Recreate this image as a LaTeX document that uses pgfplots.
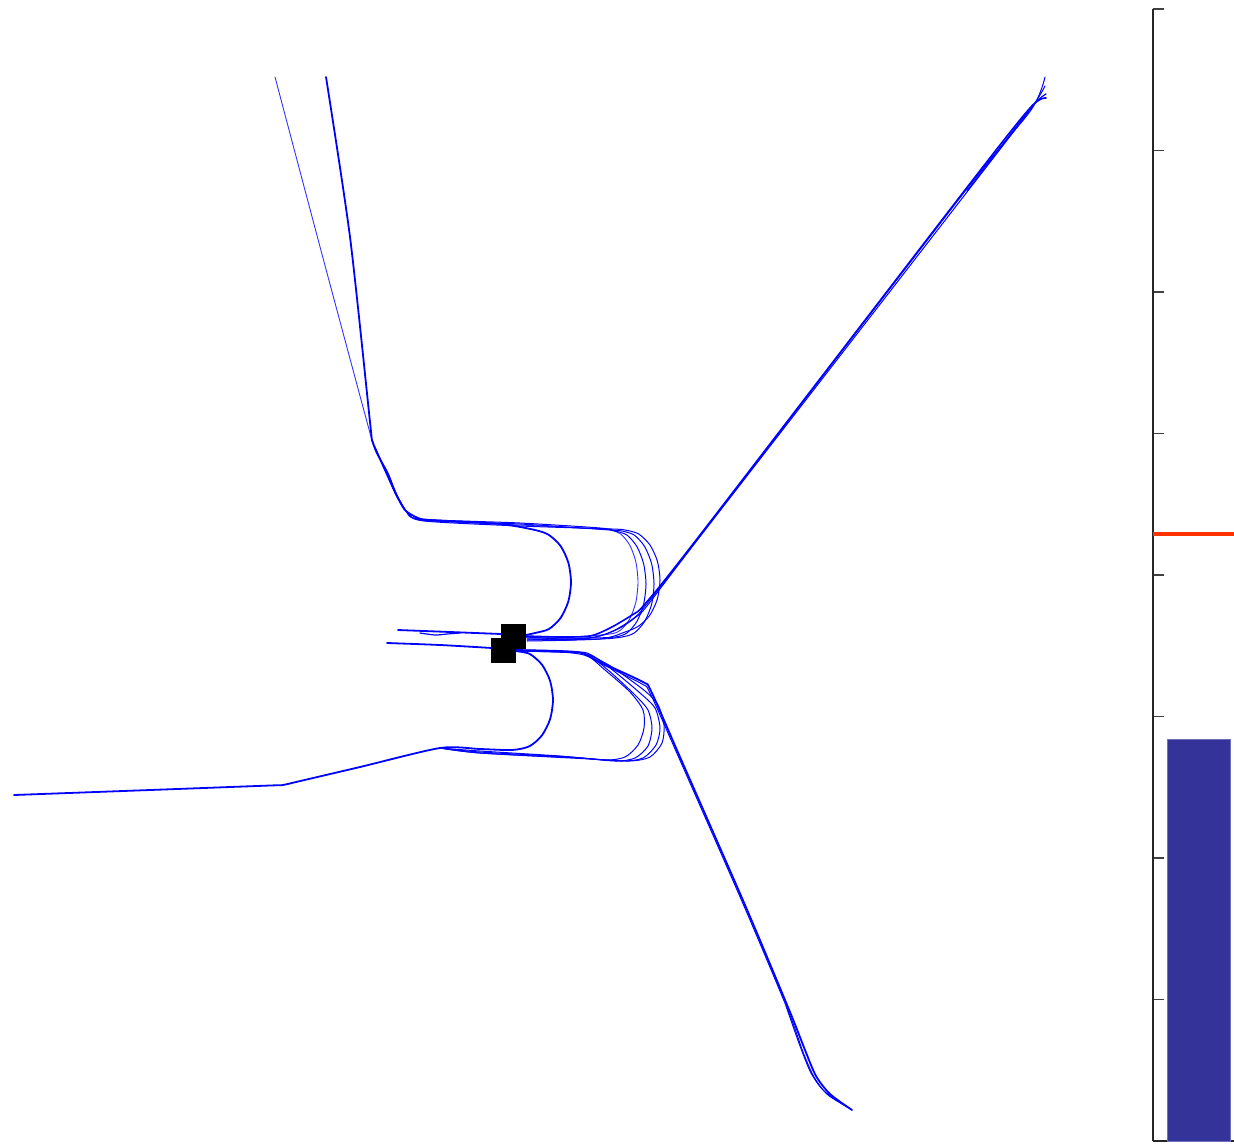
\documentclass[border=0pt]{standalone}
\usepackage{pgfplots}
\pgfplotsset{compat=1.18}
\definecolor{trk}{RGB}{0,0,255}
\definecolor{barblue}{RGB}{51,51,153}
\definecolor{redline}{RGB}{255,51,0}
\pgfplotsset{trj/.style={trk, line join=round, line cap=round, smooth, tension=0.45, mark=none}}
\begin{document}
\begin{tikzpicture}
\begin{axis}[
  at={(0pt,0pt)}, anchor=south west,
  scale only axis, width=617pt, height=572.5pt,
  xmin=0, xmax=1234, ymin=0, ymax=1145, y dir=reverse,
  axis lines=none, clip=false,
]
% upper-left arrivals
\addplot[trj, line width=0.45pt, opacity=0.8] coordinates {(275,77) (323,258) (367,422) (372,440) (376,450) (385,470) (395,492) (405,510) (418,518) (430,521) (520,525) (600,529) (610,530) (620.7,534) (629.8,545.2) (635.9,562.1) (638,582) (635.9,601.9) (629.8,618.8) (620.7,630) (610,634) (570,637) (526,637)};
\addplot[trj, line width=0.9pt] coordinates {(326,77) (350,237) (370,422) (372,440) (376,450) (385,470) (395,492) (405,510) (418,518) (430,520) (500,524) (535,530) (548.8,534.9) (560.5,545.9) (568.3,562.5) (571,582) (568.3,601.5) (560.5,618.1) (548.8,629.1) (535,633) (526,635)};
\addplot[trj, line width=0.5pt] coordinates {(372,440) (376,451) (386,471) (395,493) (406,511) (420,519) (520,523) (600,528) (615,531) (626.9,535) (636.9,546.5) (643.6,563.7) (646,584) (643.6,604.3) (636.9,621.5) (626.9,633) (615,637) (590,638) (527,638)};
\addplot[trj, line width=0.5pt] coordinates {(372,440) (376,452) (387,472) (396,494) (407,512) (422,520) (520,524) (610,530) (622,531) (634.2,535) (644.6,546.5) (651.6,563.7) (654,584) (651.6,604.3) (644.6,621.5) (634.2,633) (622,637) (600,639) (527,640)};
\addplot[trj, line width=0.5pt] coordinates {(372,440) (377,453) (388,473) (397,495) (408,513) (424,521) (520,526) (612,529) (625,530) (638.4,533.8) (649.7,544.6) (657.3,560.9) (660,580) (657.3,599.1) (649.7,615.4) (638.4,626.2) (625,632) (600,639) (527,641)};
% upper-right departures
\addplot[trj, line width=0.8pt] coordinates {(526,636) (560,637) (590,636) (610,628) (632,615) (645,604) (700,535) (965,190) (1030,108) (1046,98)};
\addplot[trj, line width=0.5pt] coordinates {(526,637) (565,639) (595,637) (615,630) (634,618) (646,605) (700,536) (966,190) (1031,110) (1045,77)};
\addplot[trj, line width=0.5pt] coordinates {(527,639) (570,640) (600,636) (620,628) (636,617) (647,606) (702,534) (967,192) (1030,110) (1045,86)};
\addplot[trj, line width=0.6pt] coordinates {(967,191) (1030,109) (1046,94)};
% runway lines to the left
\addplot[trj, line width=0.9pt] coordinates {(398,630) (450,632) (501,634)};
\addplot[trj, line width=0.6pt] coordinates {(420,633) (435,635) (447,634) (460,633)};
\addplot[trj, line width=0.9pt] coordinates {(387,643) (440,645) (492,648)};
% lower departure to the right
\addplot[trj, line width=0.9pt] coordinates {(515,650) (560,651) (582,653) (600,662) (643,682) (651,691) (680,757) (745,905) (790,1012) (805,1050) (816,1076) (830,1094) (852,1110)};
\addplot[trj, line width=0.5pt] coordinates {(516,651) (560,652) (584,655) (602,664) (642,684) (650,693) (679,758) (744,906) (789,1013) (803,1052) (814,1077) (828,1095) (851,1109)};
\addplot[trj, line width=0.5pt] coordinates {(786,1006) (800,1046) (811,1073) (824,1091) (847,1107)};
% lower arc and departure to the left
\addplot[trj, line width=0.9pt] coordinates {(515,651) (529.5,653.8) (541.9,664.6) (550.1,680.9) (553,700) (550.1,719.1) (541.9,735.4) (529.5,746.2) (512,750) (480,749) (440,748) (360,767) (296,782) (283,785) (270,785.5) (150,790) (14,795)};
% lower loops
\addplot[trj, line width=0.5pt] coordinates {(440,748) (480,751) (560,756) (605,760) (625,757) (638,745) (644,728) (643,710) (630,692) (605,670) (585,654) (560,651) (516,650)};
\addplot[trj, line width=0.5pt] coordinates {(440,748) (480,752) (570,757) (615,761) (635,758) (648,746) (652,728) (648,710) (635,695) (608,670) (586,654) (560,652) (516,651)};
\addplot[trj, line width=0.5pt] coordinates {(440,748) (480,753) (580,758) (622,761) (643,758) (656,745) (660,728) (655,708) (640,693) (610,668) (587,653) (560,652) (516,651)};
\addplot[trj, line width=0.5pt] coordinates {(440,748) (480,753) (590,759) (630,761) (650,757) (662,743) (664,725) (658,705) (645,691) (612,667) (588,654)};
% squares
\addplot[only marks, mark=square*, mark size=6pt, black] coordinates {(503.7,650) (513.3,636)};
\end{axis}
\begin{axis}[
  at={(576.5pt,2pt)}, anchor=south west,
  scale only axis, width=40.5pt, height=566pt,
  xmin=0, xmax=81, ymin=0, ymax=8,
  axis x line=bottom, axis y line=left,
  axis line style={-, line width=0.8pt, black!85},
  xtick=\empty, ytick={0,1,2,3,4,5,6,7,8}, yticklabels={},
  tick align=inside, major tick length=5.5pt,
  tick style={line width=0.7pt, black!75},
  clip=false,
]
\addplot[fill=barblue, draw=barblue!70!white, line width=0.3pt] coordinates {(14,0) (14,2.84) (77,2.84) (77,0)} -- cycle;
\addplot[redline, line width=2.4pt] coordinates {(0,4.29) (81,4.29)};
\end{axis}
\pgfresetboundingbox
\path (0pt,0pt) rectangle (617pt,572.5pt);
\end{tikzpicture}
\end{document}
